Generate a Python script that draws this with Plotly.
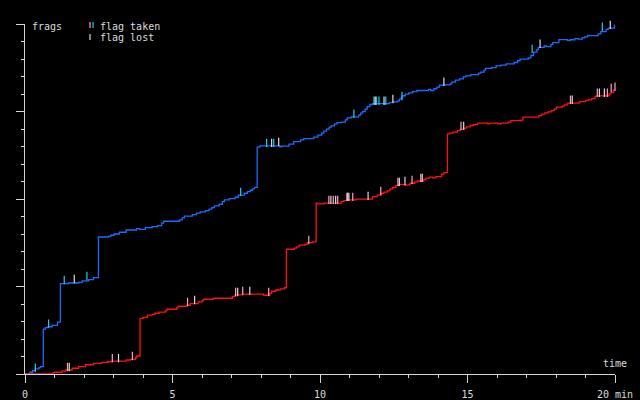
import plotly.graph_objects as go

# ---- data (time in minutes, frags) ----
blue_t = [0, 0.17, 0.26, 0.35, 0.47, 0.53, 0.62, 0.69, 0.78, 0.92, 1.10, 1.20, 1.48, 1.82, 1.94, 2.16, 2.32,
          2.49, 2.83, 2.91, 3.02, 3.20, 3.43, 3.78, 3.88, 4.08, 4.31, 4.49, 4.63, 4.70, 5.24, 5.33, 5.40,
          5.67, 5.81, 5.94, 6.12, 6.24, 6.33, 6.42, 6.58, 6.69, 6.76, 6.92, 7.12, 7.23, 7.44, 7.54, 7.64,
          7.71, 7.78, 7.87, 7.96, 8.64, 8.70, 8.95, 9.11, 9.34, 9.45, 9.79, 9.93, 10.06, 10.13, 10.22, 10.31,
          10.38, 10.49, 10.58, 10.72, 10.86, 10.92, 11.06, 11.31, 11.38, 11.44, 11.53, 11.60, 11.69, 11.78,
          12.35, 12.49, 12.62, 12.69, 12.76, 12.80, 12.89, 13.01, 13.14, 13.28, 13.68, 13.75, 13.86, 13.96,
          14.05, 14.20, 14.41, 14.47, 14.59, 14.73, 14.86, 14.95, 15.11, 15.38, 15.45, 15.56, 15.61, 15.81,
          15.97, 16.13, 16.31, 16.58, 16.70, 16.78, 17.06, 17.15, 17.24, 17.35, 17.40, 17.60, 17.67, 17.83,
          17.89, 18.10, 18.39, 18.48, 18.64, 18.75, 18.89, 18.98, 19.07, 19.43, 19.52, 19.70, 19.77, 19.98, 20.0]
blue_f = [0, 1.0, 1.9, 2.9, 3.6, 4.2, 25.6, 26.5, 27.0, 27.8, 29.6, 51.6, 52.0, 52.4, 53.2, 53.9, 55.1,
          78.3, 78.7, 79.3, 80.0, 81.0, 82.3, 83.1, 82.7, 83.6, 84.2, 84.8, 86.2, 87.3, 88.1, 89.2, 90.2,
          91.1, 91.9, 92.6, 93.4, 94.2, 95.1, 96.1, 97.0, 98.5, 99.5, 100.2, 101.0, 102.2, 103.3, 104.2, 105.0,
          105.8, 106.7, 129.6, 130.4, 129.8, 130.2, 131.3, 132.8, 133.8, 134.5, 135.3, 136.5, 137.6, 138.8, 139.9, 141.1,
          141.8, 142.9, 143.7, 143.9, 145.2, 146.4, 146.9, 147.9, 149.1, 150.0, 151.3, 152.8, 154.0, 154.5,
          155.1, 155.5, 155.9, 157.1, 158.0, 159.0, 159.9, 160.7, 161.4, 162.0, 162.6, 162.0, 163.0, 163.9,
          165.1, 165.2, 165.8, 166.8, 167.9, 168.7, 169.8, 170.4, 171.1, 171.9, 172.5, 173.6, 174.6, 175.1,
          176.1, 176.5, 177.2, 178.0, 179.0, 179.9, 180.7, 182.0, 183.9, 185.4, 186.6, 187.5, 187.1, 188.3,
          189.3, 191.1, 190.6, 191.0, 191.7, 191.4, 192.1, 192.7, 193.4, 194.4, 195.7, 196.9, 197.7, 199.0, 199.9]

red_t = [0, 0.89, 0.94, 1.01, 1.26, 1.37, 1.60, 1.82, 2.05, 2.32, 2.59, 2.79, 2.95, 3.43, 3.57, 3.75, 3.79,
         3.90, 4.00, 4.15, 4.31, 4.40, 4.54, 4.76, 4.81, 5.15, 5.20, 5.49, 5.60, 5.87, 6.01, 6.05, 6.37,
         7.03, 7.12, 7.37, 8.09, 8.30, 8.36, 8.50, 8.66, 8.79, 8.86, 9.13, 9.20, 9.29, 9.50, 9.57, 9.75,
         9.86, 9.87, 9.93, 10.13, 10.72, 10.81, 10.90, 11.22, 11.78, 11.94, 12.08, 12.17, 12.28, 12.37, 12.46,
         12.57, 12.67, 12.90, 13.03, 13.07, 13.21, 13.30, 13.52, 13.59, 13.71, 13.82, 13.93, 14.12, 14.20,
         14.32, 14.39, 14.50, 14.66, 14.75, 14.88, 14.97, 15.09, 15.20, 15.34, 15.68, 15.75, 16.03, 16.13,
         16.38, 16.47, 16.81, 16.88, 17.42, 17.51, 17.62, 17.73, 17.85, 17.94, 18.01, 18.21, 18.28, 18.39,
         18.75, 18.80, 19.00, 19.09, 19.21, 19.32, 19.36, 19.75, 19.80, 19.86, 19.95, 20.0]
red_f = [0, 0, 0.7, 1.0, 1.7, 2.3, 3.3, 4.2, 5.3, 6.1, 6.7, 7.0, 7.4, 8.0, 8.4, 9.3, 10.3,
         31.8, 32.4, 33.6, 34.1, 34.7, 35.4, 36.2, 37.0, 37.9, 38.7, 39.3, 40.2, 41.2, 42.1, 42.7, 43.3,
         44.4, 45.2, 45.6, 45.0, 46.1, 47.3, 48.0, 48.6, 49.3, 71.3, 71.9, 72.6, 73.6, 74.2, 75.1, 75.5,
         75.9, 97.6, 97.2, 97.6, 98.5, 99.1, 99.5, 99.9, 101.4, 102.2, 103.3, 103.9, 104.6, 105.8, 106.7,
         107.7, 108.2, 107.9, 108.6, 109.0, 109.8, 110.3, 111.1, 111.9, 112.5, 112.1, 112.8, 114.2, 115.1,
         137.2, 137.6, 138.2, 139.1, 139.9, 140.5, 141.2, 142.0, 142.5, 143.3, 142.9, 143.3, 142.9, 143.3,
         143.9, 144.8, 145.1, 146.8, 147.7, 148.5, 149.2, 149.8, 150.5, 151.3, 152.5, 153.1, 153.8, 154.8,
         154.9, 155.7, 156.3, 156.7, 157.4, 158.5, 158.9, 158.9, 160.1, 160.8, 162.2, 162.5]

# flag events: blue team
blue_taken_t = [0.35, 0.80, 1.33, 2.10, 7.31, 8.19, 8.43, 11.15, 11.83, 11.91, 12.00, 12.23, 12.78, 17.19, 19.57]
blue_taken_f = [3.6, 28.8, 53.7, 56.0, 104.1, 132.1, 132.1, 148.7, 156.1, 156.1, 156.1, 156.1, 158.9, 185.8, 198.4]
blue_lost_t = [1.67, 8.36, 8.60, 11.87, 12.17, 12.47, 14.20, 17.46, 19.84]
blue_lost_f = [54.3, 132.1, 132.6, 156.1, 156.1, 157.2, 167.0, 188.7, 199.5]

# flag events: red team
red_taken_t = [1.44, 2.96, 3.64, 5.51, 7.14, 7.38, 8.26, 9.62, 10.30, 10.45, 10.60, 10.91, 11.11, 12.06,
               12.64, 13.12, 13.47, 14.78, 18.49, 19.40, 19.74, 19.87, 20.0]
red_taken_f = [4.0, 9.1, 10.3, 41.2, 46.9, 47.5, 46.9, 76.6, 99.5, 99.5, 99.5, 101.2, 101.2, 104.6,
               109.8, 110.9, 112.1, 141.8, 156.7, 160.7, 160.7, 163.5, 164.1]
red_lost_t = [1.50, 3.17, 5.75, 7.21, 7.62, 10.37, 10.53, 10.94, 10.98, 11.63, 12.69, 12.88, 13.42,
              14.87, 18.55, 19.47, 19.64]
red_lost_f = [4.0, 9.1, 42.3, 46.9, 47.5, 99.5, 99.5, 101.2, 101.2, 101.8, 109.8, 110.3, 112.1,
              141.8, 156.7, 160.7, 160.7]

x_tickvals = [0, 5, 10, 15, 20]
x_ticktext = ["0", "5", "10", "15", "20 min"]

BLUE = "#1a6cff"
RED = "#ff1010"
CYAN = "#22ccee"
PINK = "#ff9fcc"
GREY = "#dcdcdc"
AXIS = "#d4d4d4"
FONT = "DejaVu Sans Mono"

fig = go.Figure()
fig.add_trace(go.Scatter(x=blue_t, y=blue_f, mode="lines", line=dict(color=BLUE, width=1.3, shape="hv"),
                         showlegend=False))
fig.add_trace(go.Scatter(x=red_t, y=red_f, mode="lines", line=dict(color=RED, width=1.3, shape="hv"),
                         showlegend=False))


def ticks(t, f, color):
    return go.Scatter(x=t, y=f, mode="markers", showlegend=False, cliponaxis=False,
                      marker=dict(symbol="line-ns", size=6, line=dict(color=color, width=1.2)))


fig.add_trace(ticks(blue_taken_t, blue_taken_f, CYAN))
fig.add_trace(ticks(blue_lost_t, blue_lost_f, GREY))
fig.add_trace(ticks(red_taken_t, red_taken_f, PINK))
fig.add_trace(ticks(red_lost_t, red_lost_f, GREY))

fig.update_layout(
    width=640, height=400,
    margin=dict(l=25, r=25, t=24, b=26, autoexpand=False),
    paper_bgcolor="black", plot_bgcolor="black",
    font=dict(family=FONT, size=10, color=GREY),
    xaxis=dict(range=[0, 20], automargin=False, showgrid=False, zeroline=False, showline=True,
               linecolor=AXIS, linewidth=1,
               ticks="outside", ticklen=8, tickwidth=1, tickcolor=AXIS,
               tickvals=x_tickvals, ticktext=x_ticktext, ticklabelstandoff=3,
               tickfont=dict(family=FONT, size=10, color=GREY),
               minor=dict(dtick=1, ticks="outside", ticklen=3, tickwidth=1, tickcolor=AXIS, showgrid=False)),
    yaxis=dict(range=[0, 200], automargin=False, showgrid=False, zeroline=False, showline=True,
               linecolor=AXIS, linewidth=1,
               ticks="outside", ticklen=8, tickwidth=1, tickcolor=AXIS, dtick=50, tick0=0,
               showticklabels=False,
               minor=dict(dtick=10, ticks="outside", ticklen=3, tickwidth=1, tickcolor=AXIS, showgrid=False)),
)

# legend icons (decoration, in paper coordinates)
for x0, y0, y1, c in [(0.1102, 1.0057, 0.9886, PINK), (0.1153, 1.0057, 0.9886, CYAN),
                      (0.1102, 0.9714, 0.9543, GREY)]:
    fig.add_shape(type="line", xref="paper", yref="paper", x0=x0, x1=x0, y0=y0, y1=y1,
                  line=dict(color=c, width=1.2))

fig.add_annotation(text="frags", xref="paper", yref="paper", x=0, y=1, xanchor="left", yanchor="middle",
                   xshift=5, yshift=-2, showarrow=False, font=dict(family=FONT, size=10, color=GREY))
fig.add_annotation(text="time", xref="x", yref="y", x=20, y=0, xanchor="center", yanchor="middle",
                   yshift=11, showarrow=False, font=dict(family=FONT, size=10, color=GREY))
fig.add_annotation(text="flag taken", xref="paper", yref="paper", x=0, y=1, xanchor="left", yanchor="middle",
                   xshift=73, yshift=-2, showarrow=False, font=dict(family=FONT, size=10, color=GREY))
fig.add_annotation(text="flag lost", xref="paper", yref="paper", x=0, y=1, xanchor="left", yanchor="middle",
                   xshift=73, yshift=-13, showarrow=False, font=dict(family=FONT, size=10, color=GREY))

fig.write_html("out.html", config={"displayModeBar": False},
               post_script="document.body.style.margin='0';document.body.style.background='black';")
